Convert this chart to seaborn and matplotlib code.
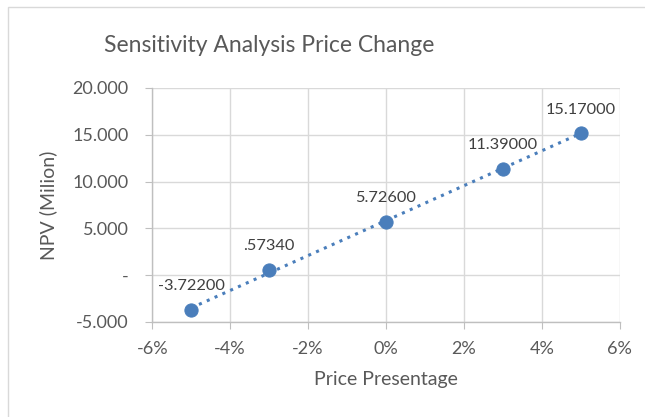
import numpy as np
import pandas as pd
import seaborn as sns
import matplotlib.pyplot as plt
from matplotlib.patches import Rectangle
from matplotlib.ticker import FuncFormatter

# datos del grafico
cambio_precio = [-5, -3, 0, 3, 5]
npv = [-3.722, 0.5734, 5.726, 11.39, 15.17]
etiquetas = ["-3.72200", ".57340", "5.72600", "11.39000", "15.17000"]

df = pd.DataFrame({"precio": cambio_precio, "npv": npv})

sns.set_style("white")
plt.rcParams["font.family"] = ["Lato", "DejaVu Sans"]

gris = "#595959"
azul = "#4a7ebb"

fig = plt.figure(figsize=(6.45, 4.17), dpi=100)
ax = fig.add_axes([0.236, 0.228, 0.725, 0.561])

# borde del area del grafico
fig.patches.append(Rectangle((8 / 645, -0.1), 1.2, 1 - 7 / 417 + 0.1,
                             transform=fig.transFigure, fill=False,
                             edgecolor="#d9d9d9", linewidth=1.0))

# linea de tendencia punteada
sns.regplot(data=df, x="precio", y="npv", ax=ax, scatter=False, ci=None,
            truncate=True,
            line_kws={"color": azul, "linestyle": (0, (1, 1.8)), "linewidth": 2.2})
sns.scatterplot(data=df, x="precio", y="npv", ax=ax, color=azul, s=90,
                edgecolor=azul, zorder=3)

for x, y, t in zip(cambio_precio, npv, etiquetas):
    ax.annotate(t, (x, y), xytext=(0, 12), textcoords="offset points",
                ha="center", va="bottom", fontsize=11.8, color="#404040")

ax.set_xlim(-6, 6)
ax.set_ylim(-5, 20)
ax.set_xticks(range(-6, 7, 2))
ax.set_yticks(range(-5, 21, 5))
ax.xaxis.set_major_formatter(FuncFormatter(lambda v, p: f"{v:.0f}%"))
ax.yaxis.set_major_formatter(FuncFormatter(lambda v, p: "-" if v == 0 else f"{v:.3f}"))

ax.grid(True, color="#d9d9d9", linewidth=1)
for s in ["top", "right"]:
    ax.spines[s].set_visible(False)
for s in ["left", "bottom"]:
    ax.spines[s].set_color("#bfbfbf")
    ax.spines[s].set_linewidth(1)
ax.tick_params(axis="both", direction="out", length=5, color="#bfbfbf",
               labelsize=13, labelcolor=gris, left=True, bottom=True)
ax.tick_params(axis="y", pad=12)
ax.tick_params(axis="x", pad=9)

ax.set_xlabel("Price Presentage", fontsize=14, color=gris, va="center")
ax.set_ylabel("NPV (Milion)", fontsize=14, color=gris, va="center")
ax.xaxis.set_label_coords(0.5, -0.248)
ax.yaxis.set_label_coords(-0.222, 0.5)
fig.text(269 / 645, 1 - 45 / 417, "Sensitivity Analysis Price Change", ha="center",
         va="center", fontsize=16.5, color=gris)

fig.savefig("out.png", dpi=100)
